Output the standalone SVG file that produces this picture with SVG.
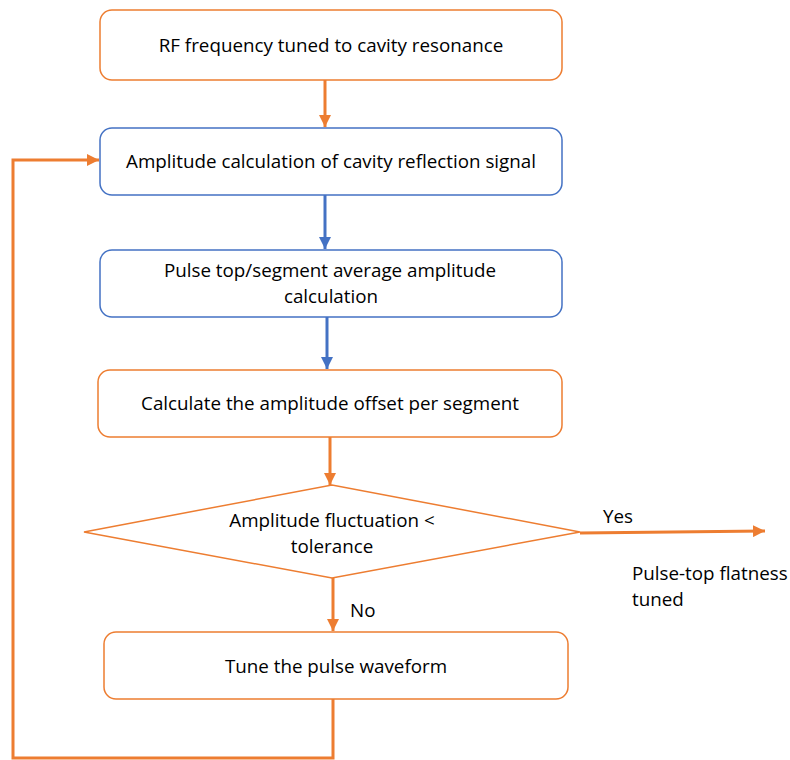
<svg xmlns="http://www.w3.org/2000/svg" width="790" height="760" viewBox="0 0 790 760">
<style>
.bo{fill:#fff;stroke:#ED7D31;stroke-width:1.5}
.bb{fill:#fff;stroke:#4472C4;stroke-width:1.5}
.t{font-family:"Open Sans","Liberation Sans",sans-serif;font-size:18.8px;fill:#000;text-anchor:middle}
.tl{font-family:"Open Sans","Liberation Sans",sans-serif;font-size:18.8px;fill:#000}
.co{fill:none;stroke:#ED7D31;stroke-width:3}
.cb{fill:none;stroke:#4472C4;stroke-width:3}
</style>
<defs>
<marker id="ao" viewBox="0 0 10 10" refX="10" refY="5" markerWidth="4" markerHeight="4" orient="auto" markerUnits="strokeWidth"><path d="M0,0 L10,5 L0,10 z" fill="#ED7D31"/></marker>
<marker id="ab" viewBox="0 0 10 10" refX="10" refY="5" markerWidth="4" markerHeight="4" orient="auto" markerUnits="strokeWidth"><path d="M0,0 L10,5 L0,10 z" fill="#4472C4"/></marker>
</defs>
<rect width="790" height="760" fill="#fff"/>
<g id="connectors">
<path class="co" d="M325,80 L325,127" marker-end="url(#ao)"/>
<path class="cb" d="M325,195 L325,249" marker-end="url(#ab)"/>
<path class="cb" d="M327,317 L327,369" marker-end="url(#ab)"/>
<path class="co" d="M330,437 L330,485" marker-end="url(#ao)"/>
<path class="co" d="M580,533 L765,531" marker-end="url(#ao)"/>
<path class="co" d="M333,578 L333,631" marker-end="url(#ao)"/>
<path class="co" d="M333,699 L333,758 L13,758 L13,160 L99,160" marker-end="url(#ao)"/>
<text class="tl" x="603" y="523">Yes</text>
<text class="tl" x="350" y="617">No</text>
</g>
<g id="n1"><rect class="bo" x="100" y="10" width="462" height="70" rx="12"/><text class="t" x="331" y="52">RF frequency tuned to cavity resonance</text></g>
<g id="n2"><rect class="bb" x="100" y="128" width="462" height="67" rx="12"/><text class="t" x="331" y="168">Amplitude calculation of cavity reflection signal</text></g>
<g id="n3"><rect class="bb" x="100" y="250" width="462" height="67" rx="12"/><text class="t" x="330" y="277">Pulse top/segment average amplitude</text><text class="t" x="331" y="303">calculation</text></g>
<g id="n4"><rect class="bo" x="98" y="370" width="464" height="67" rx="12"/><text class="t" x="330" y="410">Calculate the amplitude offset per segment</text></g>
<g id="n5"><polygon class="bo" points="84,532 332,485 580,532 332,578"/><text class="t" x="332" y="527">Amplitude fluctuation &lt;</text><text class="t" x="332" y="553">tolerance</text></g>
<g id="n6"><text class="tl" x="632" y="580">Pulse-top flatness</text><text class="tl" x="632" y="606">tuned</text></g>
<g id="n7"><rect class="bo" x="104" y="632" width="464" height="67" rx="12"/><text class="t" x="336" y="673">Tune the pulse waveform</text></g>
</svg>
